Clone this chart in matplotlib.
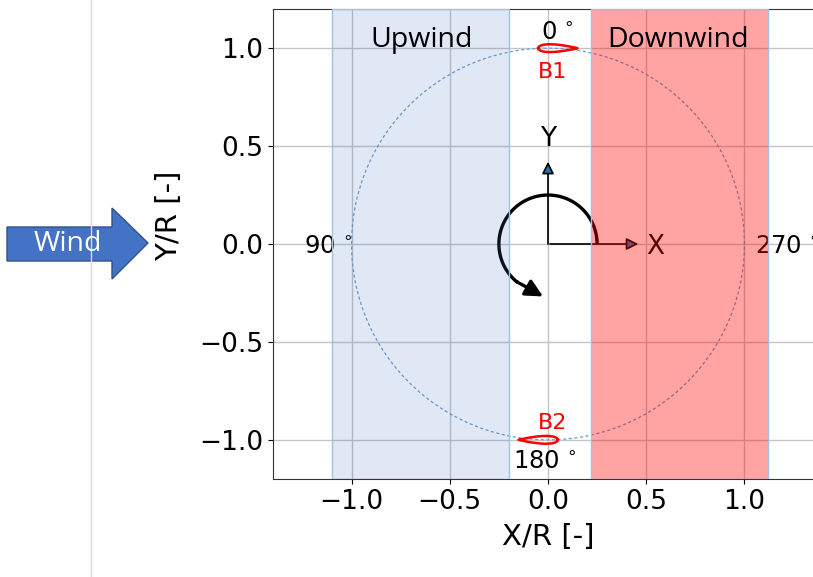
#Rotor sketch: blade positions, upwind/downwind halves and wind direction

import numpy as np
import matplotlib.pyplot as plt
from matplotlib.patches import Rectangle, Polygon

W, H = 813, 577

# regions (X/R)
upwind_span = [-1.1, -0.2]
downwind_span = [0.22, 1.12]

# blades: name, quarter-chord position, direction of chord (+1 LE on left)
blade_names = ['B1', 'B2']
blade_x = [0.0, 0.0]
blade_y = [1.0, -1.0]
blade_dir = [1, -1]
blade_lab_y = [0.847, -0.944]
chord = 0.2
thick = 0.2

# azimuth labels (baseline positions)
az_labels = ['0$\\,^\\circ$', '90$\\,^\\circ$', '180$\\,^\\circ$', '270$\\,^\\circ$']
az_x = [-0.036, -0.995, -0.178, 1.056]
az_y = [1.04, -0.05, -1.148, -0.05]
az_ha = ['left', 'right', 'left', 'left']

xticks = [-1.0, -0.5, 0.0, 0.5, 1.0]
yticks = [-1.0, -0.5, 0.0, 0.5, 1.0]


def airfoil(x0, y0, c, t, d):
    s = np.linspace(0, 1, 80)
    yt = 5*t*(0.2969*np.sqrt(s) - 0.1260*s - 0.3516*s**2 + 0.2843*s**3 - 0.1036*s**4)
    xs = np.concatenate([s, s[::-1]])
    ys = np.concatenate([yt, -yt[::-1]])
    return x0 + d*(xs - 0.25)*c, y0 + ys*c


fig = plt.figure(figsize=(W/100, H/100), dpi=100)
ax = fig.add_axes([273/W, 1-479/H, 550/W, 470/H])
ax.set_xlim(-1.4, 1.4)
ax.set_ylim(-1.2, 1.2)
ax.set_xticks(xticks)
ax.set_yticks(yticks)
ax.tick_params(labelsize=19)
ax.grid(True, color='#c4c4c4', lw=1)
ax.set_axisbelow(True)
ax.set_xlabel('X/R [-]', fontsize=21, labelpad=6)
ax.set_ylabel('Y/R [-]', fontsize=21)
ax.yaxis.set_label_coords(-0.163, 0.56)
for sp in ax.spines.values():
    sp.set_color('#333333')

# rotor circle
th = np.linspace(0, 2*np.pi, 400)
ax.plot(np.cos(th), np.sin(th), color='#6a9fd0', lw=0.9, ls=(0, (2.5, 2)))

# blades
for name, bx, by, d, ly in zip(blade_names, blade_x, blade_y, blade_dir, blade_lab_y):
    px, py = airfoil(bx, by, chord, thick, d)
    ax.plot(px, py, color='red', lw=1.8)
    ax.text(-0.05, ly, name, color='red', fontsize=16, ha='left', va='baseline')

for lab, x, y, ha in zip(az_labels, az_x, az_y, az_ha):
    ax.text(x, y, lab, fontsize=17.5, ha=ha, va='baseline')

# local coordinate system
ax.annotate('', xy=(0, 0.42), xytext=(0, 0.0),
            arrowprops=dict(arrowstyle='-|>', color='k', lw=1.2, mutation_scale=18,
                            fc='#1f77b4', shrinkA=0, shrinkB=0))
ax.annotate('', xy=(0.46, 0), xytext=(0.01, 0.0),
            arrowprops=dict(arrowstyle='-|>', color='k', lw=1.2, mutation_scale=18,
                            fc='#1f77b4', shrinkA=0, shrinkB=0))
ax.text(0.0, 0.5, 'Y', fontsize=19, ha='center', va='baseline')
ax.text(0.548, -0.05, 'X', fontsize=19, ha='center', va='baseline')

# rotation direction
r = 0.25
ta = np.radians(np.linspace(0, 232, 100))
ax.plot(r*np.cos(ta), r*np.sin(ta), color='k', lw=2.4, solid_capstyle='butt')
a0 = np.radians(230)
ax.annotate('', xy=(-0.025, -0.268), xytext=(r*np.cos(a0), r*np.sin(a0)),
            arrowprops=dict(arrowstyle='-|>', color='k', lw=2.4, mutation_scale=26,
                            shrinkA=0, shrinkB=0))

# upwind / downwind overlays
ax.add_patch(Rectangle((upwind_span[0], -1.2), upwind_span[1]-upwind_span[0], 2.4,
                       facecolor=(0.267, 0.447, 0.769, 0.16), edgecolor='#9dc3e6',
                       lw=1, zorder=5))
ax.add_patch(Rectangle((downwind_span[0], -1.2), downwind_span[1]-downwind_span[0], 2.4,
                       facecolor=(1, 0, 0, 0.36), edgecolor='#9dc3e6',
                       lw=1, zorder=5))
ax.text(-0.645, 1.005, 'Upwind', fontsize=20.5, family='Open Sans',
        ha='center', va='baseline', zorder=6)
ax.text(0.66, 1.005, 'Downwind', fontsize=20.5, family='Open Sans',
        ha='center', va='baseline', zorder=6)

# wind arrow and separator line (figure pixels)
def fp(x, y):
    return (x/W, 1 - y/H)

fig.add_artist(plt.Line2D([91/W, 91/W], [0, 1], color='#d9d9d9', lw=1))
arrow_px = [(7, 227), (112, 227), (112, 208), (148, 243), (112, 279), (112, 261), (7, 261)]
fig.add_artist(Polygon([fp(x, y) for x, y in arrow_px], closed=True,
                       facecolor='#4472c4', edgecolor='#2f528f', lw=1,
                       transform=fig.transFigure))
fig.text(*fp(68, 244), 'Wind', color='white', fontsize=20.5, family='Open Sans',
         ha='center', va='center')

fig.savefig('out.png', dpi=100)
